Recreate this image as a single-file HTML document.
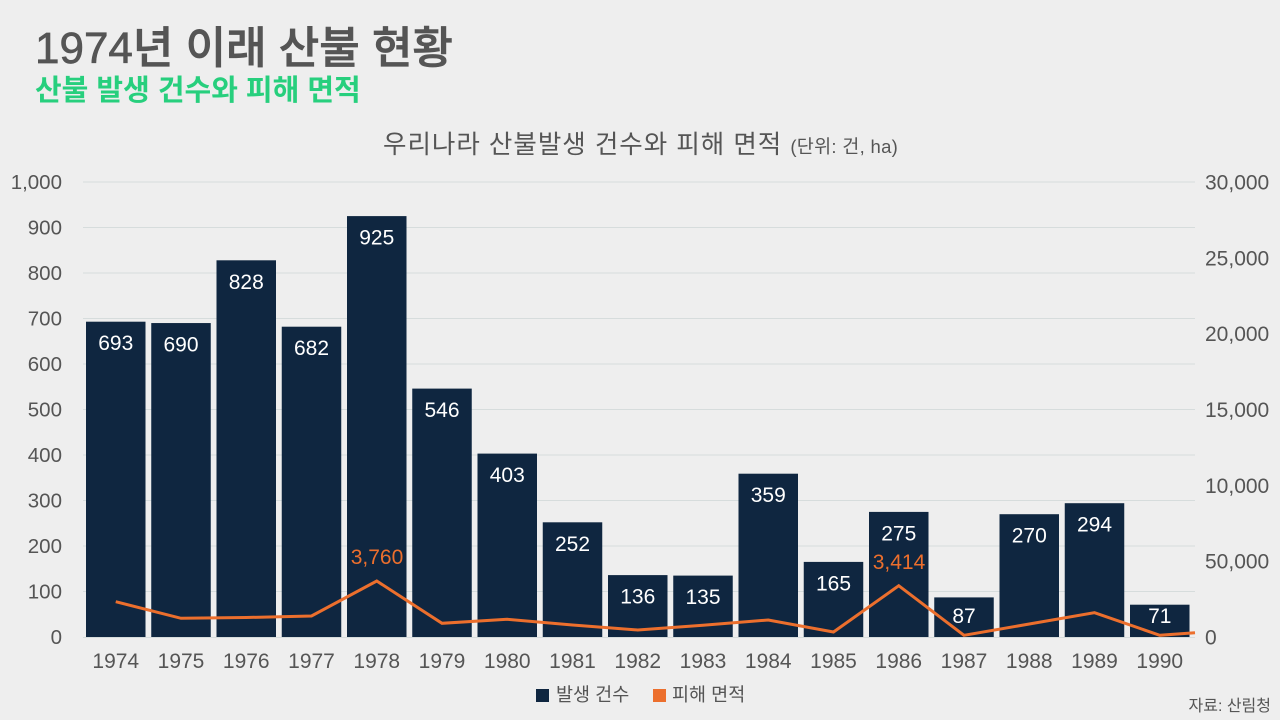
<!DOCTYPE html>
<html>
<head>
<meta charset="utf-8">
<style>
  html,body{margin:0;padding:0;background:#eeeeee;}
  svg{display:block;}
  text{font-family:"Liberation Sans","Noto Sans CJK KR",sans-serif;}
</style>
</head>
<body>
<svg width="1280" height="720" viewBox="0 0 1280 720" xmlns="http://www.w3.org/2000/svg">
  <rect x="0" y="0" width="1280" height="720" fill="#eeeeee"/>

  <!-- Titles -->
  <text x="35" y="63" font-size="44" font-weight="500" fill="#555555" stroke="#555555" stroke-width="0.7">1974년 이래 산불 현황</text>
  <text x="35" y="100" font-size="29" font-weight="bold" fill="#27cf7d">산불 발생 건수와 피해 면적</text>
  <text x="383" y="153" font-size="25.5" letter-spacing="1" fill="#555555">우리나라 산불발생 건수와 피해 면적 <tspan font-size="18.5" letter-spacing="0.3">(단위: 건, ha)</tspan></text>

  <!-- Gridlines -->
  <g stroke="#d6dcdc" stroke-width="1">
    <line x1="83" y1="182" x2="1195" y2="182"/>
    <line x1="83" y1="227.5" x2="1195" y2="227.5"/>
    <line x1="83" y1="273" x2="1195" y2="273"/>
    <line x1="83" y1="318.5" x2="1195" y2="318.5"/>
    <line x1="83" y1="364" x2="1195" y2="364"/>
    <line x1="83" y1="409.5" x2="1195" y2="409.5"/>
    <line x1="83" y1="455" x2="1195" y2="455"/>
    <line x1="83" y1="500.5" x2="1195" y2="500.5"/>
    <line x1="83" y1="546" x2="1195" y2="546"/>
    <line x1="83" y1="591.5" x2="1195" y2="591.5"/>
    <line x1="83" y1="637.5" x2="1195" y2="637.5"/>
  </g>

  <!-- Left axis labels -->
  <g font-size="20.5" fill="#555555" text-anchor="end">
    <text x="62" y="189">1,000</text>
    <text x="62" y="234.5">900</text>
    <text x="62" y="280">800</text>
    <text x="62" y="325.5">700</text>
    <text x="62" y="371">600</text>
    <text x="62" y="416.5">500</text>
    <text x="62" y="462">400</text>
    <text x="62" y="507.5">300</text>
    <text x="62" y="553">200</text>
    <text x="62" y="598.5">100</text>
    <text x="62" y="644">0</text>
  </g>

  <!-- Right axis labels -->
  <g font-size="21" fill="#555555" text-anchor="start">
    <text x="1205" y="189.5">30,000</text>
    <text x="1205" y="265.3">25,000</text>
    <text x="1205" y="341.2">20,000</text>
    <text x="1205" y="417">15,000</text>
    <text x="1205" y="492.8">10,000</text>
    <text x="1205" y="568.7">50,000</text>
    <text x="1205" y="644.5">0</text>
  </g>

  <!-- Bars -->
  <g fill="#0f2640">
    <rect x="86" y="321.7" width="59.5" height="315.3"/>
    <rect x="151.25" y="323.05" width="59.5" height="313.95"/>
    <rect x="216.5" y="260.3" width="59.5" height="376.7"/>
    <rect x="281.75" y="326.7" width="59.5" height="310.3"/>
    <rect x="347" y="216.1" width="59.5" height="420.9"/>
    <rect x="412.25" y="388.6" width="59.5" height="248.4"/>
    <rect x="477.5" y="453.6" width="59.5" height="183.4"/>
    <rect x="542.75" y="522.3" width="59.5" height="114.7"/>
    <rect x="608" y="575.1" width="59.5" height="61.9"/>
    <rect x="673.25" y="575.6" width="59.5" height="61.4"/>
    <rect x="738.5" y="473.7" width="59.5" height="163.3"/>
    <rect x="803.75" y="561.9" width="59.5" height="75.1"/>
    <rect x="869" y="511.9" width="59.5" height="125.1"/>
    <rect x="934.25" y="597.4" width="59.5" height="39.6"/>
    <rect x="999.5" y="514.2" width="59.5" height="122.8"/>
    <rect x="1064.75" y="503.2" width="59.5" height="133.8"/>
    <rect x="1130" y="604.7" width="59.5" height="32.3"/>
  </g>

  <!-- Bar labels -->
  <g font-size="21" fill="#ffffff" text-anchor="middle">
    <text x="115.75" y="350.2">693</text>
    <text x="181" y="351.5">690</text>
    <text x="246.25" y="288.8">828</text>
    <text x="311.5" y="355.2">682</text>
    <text x="376.75" y="244.6">925</text>
    <text x="442" y="417.1">546</text>
    <text x="507.25" y="482.1">403</text>
    <text x="572.5" y="550.8">252</text>
    <text x="637.75" y="603.6">136</text>
    <text x="703" y="604.1">135</text>
    <text x="768.25" y="502.2">359</text>
    <text x="833.5" y="590.4">165</text>
    <text x="898.75" y="540.4">275</text>
    <text x="964" y="623">87</text>
    <text x="1029.25" y="542.7">270</text>
    <text x="1094.5" y="531.7">294</text>
    <text x="1159.75" y="623">71</text>
  </g>

  <!-- Line series -->
  <polyline fill="none" stroke="#ec6f2d" stroke-width="3" stroke-linejoin="miter"
    points="115.75,601.7 181,618.3 246.25,617.5 311.5,616 376.75,581 442,623.3 507.25,619.3 572.5,625 637.75,630 703,625.3 768.25,620 833.5,632 898.75,585.7 964,635.3 1029.25,624 1094.5,612.7 1159.75,635.3 1195,632.7"/>

  <!-- Line labels -->
  <g font-size="21" fill="#ec6f2d" text-anchor="middle">
    <text x="377" y="564">3,760</text>
    <text x="899" y="569">3,414</text>
  </g>

  <!-- X axis labels -->
  <g font-size="21" fill="#555555" text-anchor="middle">
    <text x="115.75" y="668">1974</text>
    <text x="181" y="668">1975</text>
    <text x="246.25" y="668">1976</text>
    <text x="311.5" y="668">1977</text>
    <text x="376.75" y="668">1978</text>
    <text x="442" y="668">1979</text>
    <text x="507.25" y="668">1980</text>
    <text x="572.5" y="668">1981</text>
    <text x="637.75" y="668">1982</text>
    <text x="703" y="668">1983</text>
    <text x="768.25" y="668">1984</text>
    <text x="833.5" y="668">1985</text>
    <text x="898.75" y="668">1986</text>
    <text x="964" y="668">1987</text>
    <text x="1029.25" y="668">1988</text>
    <text x="1094.5" y="668">1989</text>
    <text x="1159.75" y="668">1990</text>
  </g>

  <!-- Legend -->
  <rect x="536" y="689" width="13" height="13" fill="#0f2640"/>
  <text x="556" y="701" font-size="18.5" fill="#555555">발생 건수</text>
  <rect x="653" y="689" width="13" height="13" fill="#ec6f2d"/>
  <text x="672" y="701" font-size="18.5" fill="#555555">피해 면적</text>

  <!-- Source -->
  <text x="1271" y="711" font-size="16" fill="#555555" text-anchor="end">자료: 산림청</text>
</svg>
</body>
</html>
